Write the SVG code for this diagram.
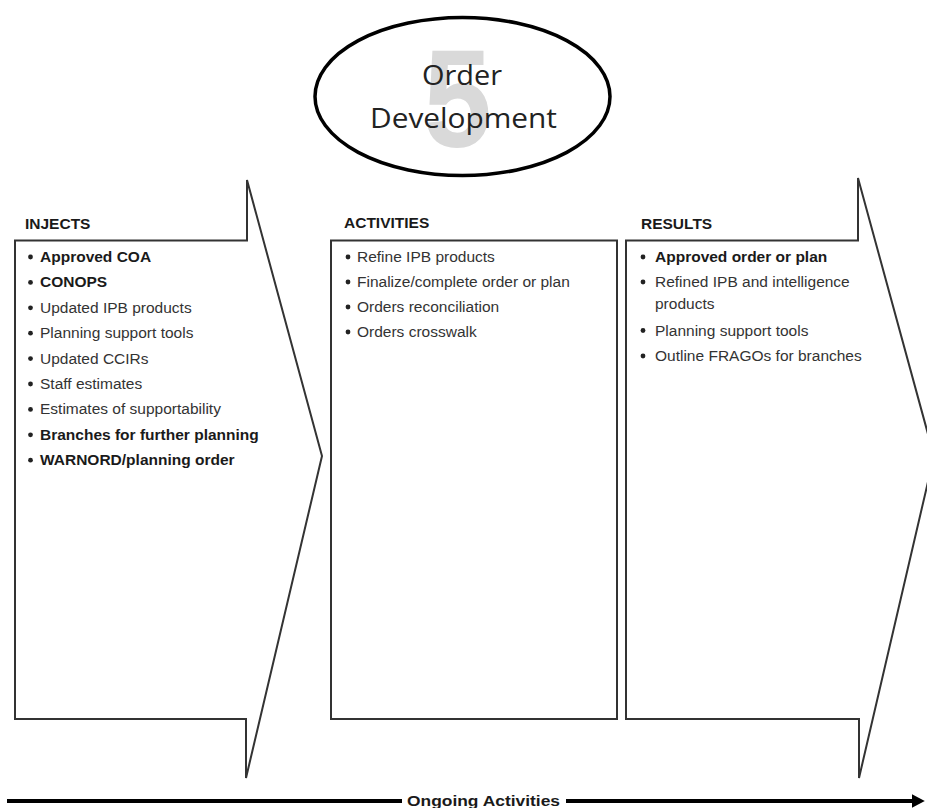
<svg xmlns="http://www.w3.org/2000/svg" width="927" height="808" viewBox="0 0 927 808">
<style>
.shape{fill:#fff;stroke:#333;stroke-width:2;stroke-linejoin:miter}
.hdr{font-family:"Liberation Sans",Arial,sans-serif;font-weight:bold;font-size:15.5px;fill:#1a1a1a}
.t{font-family:"Liberation Sans",Arial,sans-serif;font-size:15.5px;fill:#333}
.b{font-family:"Liberation Sans",Arial,sans-serif;font-size:15.5px;font-weight:bold;fill:#1a1a1a}
.dot{fill:#222}
.title{font-family:"Open Sans","Noto Sans",sans-serif;font-size:28px;fill:#222}
.conn{stroke:#000;stroke-width:4;fill:none}
</style>
<defs>
<marker id="ah" markerWidth="4" markerHeight="4" refX="1.5" refY="2" orient="auto" markerUnits="strokeWidth">
<path d="M0,0.3 L3.2,2 L0,3.7 Z" fill="#000"/>
</marker>
</defs>
<rect width="927" height="808" fill="#fff"/>

<g id="order-development">
<text x="0" y="0" transform="translate(457.5,147) scale(0.88,1)" text-anchor="middle" style="font-family:'Liberation Sans',Arial,sans-serif;font-weight:bold;font-size:140px;fill:#d9d9d9">5</text>
<ellipse cx="462.5" cy="96.5" rx="147.5" ry="79" fill="none" stroke="#000" stroke-width="3.5"/>
<text class="title" x="422" y="85" textLength="80" lengthAdjust="spacingAndGlyphs">Order</text>
<text class="title" x="370" y="128" textLength="187" lengthAdjust="spacingAndGlyphs">Development</text>
</g>

<g id="injects">
<path class="shape" d="M15,240.5 H247 V180 L322,456 L246,778 V719 H15 Z"/>
<text class="hdr" x="25" y="229">INJECTS</text>
<circle class="dot" cx="30.5" cy="257" r="2.4"/><text class="b" x="40" y="262">Approved COA</text>
<circle class="dot" cx="30.5" cy="282.4" r="2.4"/><text class="b" x="40" y="287.4">CONOPS</text>
<circle class="dot" cx="30.5" cy="307.8" r="2.4"/><text class="t" x="40" y="312.8">Updated IPB products</text>
<circle class="dot" cx="30.5" cy="333.2" r="2.4"/><text class="t" x="40" y="338.2">Planning support tools</text>
<circle class="dot" cx="30.5" cy="358.6" r="2.4"/><text class="t" x="40" y="363.6">Updated CCIRs</text>
<circle class="dot" cx="30.5" cy="384" r="2.4"/><text class="t" x="40" y="389">Staff estimates</text>
<circle class="dot" cx="30.5" cy="409.4" r="2.4"/><text class="t" x="40" y="414.4">Estimates of supportability</text>
<circle class="dot" cx="30.5" cy="434.8" r="2.4"/><text class="b" x="40" y="439.8">Branches for further planning</text>
<circle class="dot" cx="30.5" cy="460.2" r="2.4"/><text class="b" x="40" y="465.2">WARNORD/planning order</text>
</g>

<g id="activities">
<rect class="shape" x="331" y="240.5" width="286" height="478.5"/>
<text class="hdr" x="344" y="228">ACTIVITIES</text>
<circle class="dot" cx="348" cy="257" r="2.4"/><text class="t" x="357" y="262">Refine IPB products</text>
<circle class="dot" cx="348" cy="282" r="2.4"/><text class="t" x="357" y="287">Finalize/complete order or plan</text>
<circle class="dot" cx="348" cy="307" r="2.4"/><text class="t" x="357" y="312">Orders reconciliation</text>
<circle class="dot" cx="348" cy="332" r="2.4"/><text class="t" x="357" y="337">Orders crosswalk</text>
</g>

<g id="results">
<path class="shape" d="M626,240.5 H858 V178 L934,456 L859,778 V719 H626 Z"/>
<text class="hdr" x="641" y="229">RESULTS</text>
<circle class="dot" cx="643" cy="257" r="2.4"/><text class="b" x="655" y="262">Approved order or plan</text>
<circle class="dot" cx="643" cy="282" r="2.4"/><text class="t" x="655" y="287">Refined IPB and intelligence</text>
<text class="t" x="655" y="309">products</text>
<circle class="dot" cx="643" cy="330.5" r="2.4"/><text class="t" x="655" y="335.5">Planning support tools</text>
<circle class="dot" cx="643" cy="356" r="2.4"/><text class="t" x="655" y="361">Outline FRAGOs for branches</text>
</g>

<g id="connectors">
<line class="conn" x1="7" y1="801" x2="402" y2="801"/>
<line class="conn" x1="566" y1="801" x2="918" y2="801" marker-end="url(#ah)"/>
<text x="407" y="806" textLength="153" lengthAdjust="spacingAndGlyphs" style="font-family:'Liberation Sans',Arial,sans-serif;font-weight:bold;font-size:15px;fill:#1a1a1a">Ongoing Activities</text>
</g>
</svg>
